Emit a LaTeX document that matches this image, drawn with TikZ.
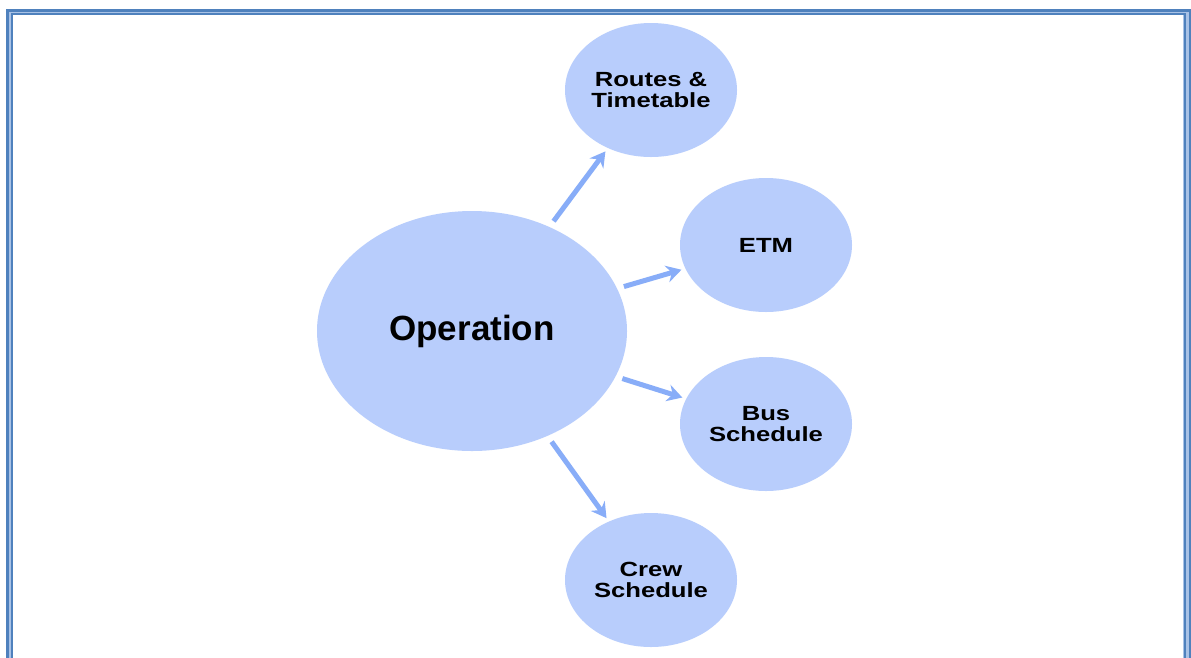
\documentclass[tikz,border=0pt]{standalone}
\usepackage{fontspec}
\setmainfont{Liberation Sans}
\newfontfamily\widefont[FakeStretch=1.25]{Liberation Sans}
\usetikzlibrary{shapes.geometric,arrows.meta}
\definecolor{frameblue}{HTML}{4F81BD}
\definecolor{framelight}{HTML}{A9C2E6}
\definecolor{bubble}{HTML}{B8CDFC}
\definecolor{arrowblue}{HTML}{88ADF8}
\tikzset{
  bubblenode/.style={ellipse, fill=bubble, draw=none, inner sep=0pt,
    minimum width=172pt, minimum height=134pt, align=center,
    font=\widefont\bfseries\fontsize{20.5}{20.5}\selectfont},
  bignode/.style={ellipse, fill=bubble, draw=none, inner sep=0pt,
    minimum width=310pt, minimum height=240pt,
    font=\bfseries\fontsize{35}{37}\selectfont},
  link/.style={draw=arrowblue, line width=5pt,
    -{Stealth[length=15pt,width=17pt,inset=5pt]},
    shorten <=7pt, shorten >=4pt}
}
\begin{document}
\begin{tikzpicture}[x=1pt,y=-1pt]
\useasboundingbox (0,0) rectangle (1191,657);
% frame
\fill[framelight] (6,9) rectangle (1192,700);
\fill[white] (12.5,15) rectangle (1183,700);
\draw[frameblue, line width=3pt] (7.5,10.5) rectangle (1190,720);
\draw[frameblue, line width=2pt] (11.5,14) rectangle (1184.5,720);
% nodes
\node[bignode] (op) at (472,331) {Operation};
\node[bubblenode] (rt) at (651,90) {Routes \&\\Timetable};
\node[bubblenode] (etm) at (766,245) {ETM};
\node[bubblenode] (bus) at (766,424) {Bus\\Schedule};
\node[bubblenode] (crew) at (651,580) {Crew\\Schedule};
% links
\draw[link] (op) -- (rt);
\draw[link] (op) -- (etm);
\draw[link] (op) -- (bus);
\draw[link] (op) -- (crew);
\end{tikzpicture}
\end{document}
